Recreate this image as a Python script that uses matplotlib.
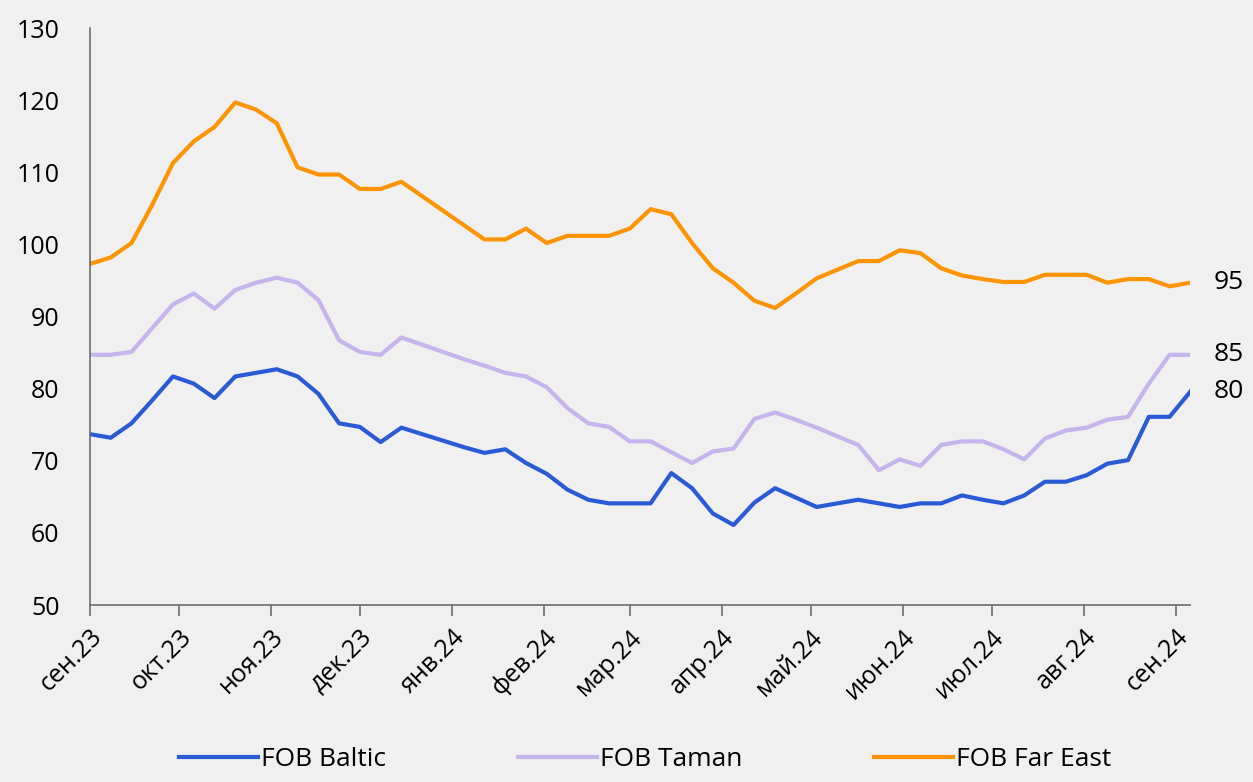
import matplotlib
matplotlib.use("Agg")
import matplotlib.pyplot as plt
import numpy as np
import pandas as pd

plt.rcParams['font.family'] = ['Open Sans', 'DejaVu Sans']

dates = pd.date_range('2023-09-01', periods=54, freq='7D')

baltic = [73.7, 73.2, 75.2, 78.4, 81.7, 80.7, 78.7, 81.7, 82.2, 82.7,
          81.7, 79.3, 75.2, 74.7, 72.6, 74.6, 73.7, 72.8, 71.9, 71.1,
          71.6, 69.7, 68.2, 66.0, 64.6, 64.1, 64.1, 64.1, 68.3, 66.2,
          62.7, 61.1, 64.2, 66.2, 64.9, 63.6, 64.1, 64.6, 64.1, 63.6,
          64.1, 64.1, 65.2, 64.6, 64.1, 65.2, 67.1, 67.1, 68.0, 69.6,
          70.1, 76.1, 76.1, 79.6]
taman = [84.7, 84.7, 85.1, 88.4, 91.7, 93.2, 91.1, 93.7, 94.7, 95.4,
         94.7, 92.3, 86.7, 85.1, 84.7, 87.1, 86.1, 85.1, 84.1, 83.2,
         82.2, 81.7, 80.2, 77.3, 75.2, 74.7, 72.7, 72.7, 71.2, 69.7,
         71.3, 71.7, 75.8, 76.7, 75.7, 74.6, 73.4, 72.2, 68.7, 70.2,
         69.3, 72.2, 72.7, 72.7, 71.6, 70.2, 73.1, 74.2, 74.6, 75.7,
         76.1, 80.7, 84.7, 84.7]
far_east = [97.3, 98.2, 100.2, 105.5, 111.3, 114.3, 116.3, 119.7, 118.7, 116.8,
            110.7, 109.7, 109.7, 107.7, 107.7, 108.7, 106.7, 104.7, 102.7, 100.7,
            100.7, 102.2, 100.2, 101.2, 101.2, 101.2, 102.2, 104.9, 104.2, 100.2,
            96.7, 94.7, 92.2, 91.2, 93.2, 95.3, 96.5, 97.7, 97.7, 99.2,
            98.8, 96.7, 95.7, 95.2, 94.8, 94.8, 95.8, 95.8, 95.8, 94.7,
            95.2, 95.2, 94.2, 94.7]

end_labels = ['80', '85', '95']
month_labels = ['сен.23', 'окт.23', 'ноя.23', 'дек.23', 'янв.24', 'фев.24', 'мар.24',
                'апр.24', 'май.24', 'июн.24', 'июл.24', 'авг.24', 'сен.24']
month_ticks = pd.date_range('2023-09-01', periods=13, freq='MS')

bg = '#f0f0f0'
fig = plt.figure(figsize=(12.53, 7.82), dpi=100, facecolor=bg)
ax = fig.add_axes((0.0718, 0.2263, 0.8782, 0.7377), facecolor=bg)

l1, = ax.plot(dates, baltic, color='#2a5bd7', lw=3, label='FOB Baltic')
l2, = ax.plot(dates, taman, color='#c5b4ee', lw=3, label='FOB Taman')
l3, = ax.plot(dates, far_east, color='#ff9400', lw=3, label='FOB Far East')

# end values
for series, lab in zip([baltic, taman, far_east], end_labels):
    ax.annotate(lab, xy=(dates[-1], series[-1]), xytext=(17, 0),
                textcoords='offset points', va='center', ha='left',
                fontsize=19, annotation_clip=False)

ax.set_ylim(50, 130)
ax.set_yticks(np.arange(50, 131, 10))
ax.set_xlim(dates[0], dates[-1])
ax.set_xticks(month_ticks)
ax.set_xticklabels(month_labels, rotation=45, ha='right', rotation_mode='anchor')

for s in ['top', 'right']:
    ax.spines[s].set_visible(False)
for s in ['left', 'bottom']:
    ax.spines[s].set_color('#6e6e6e')
    ax.spines[s].set_linewidth(1.2)
ax.tick_params(axis='y', length=0, labelsize=18, pad=22)
ax.tick_params(axis='x', length=8, width=1.2, color='#6e6e6e', labelsize=18, pad=6)

fig.legend(handles=[l1, l2, l3], loc='lower center', bbox_to_anchor=(0.515, -0.018),
           ncol=3, frameon=False, fontsize=19, handlelength=3, columnspacing=5,
           handletextpad=0.1)

fig.savefig('out.png', dpi=100, facecolor=bg)
